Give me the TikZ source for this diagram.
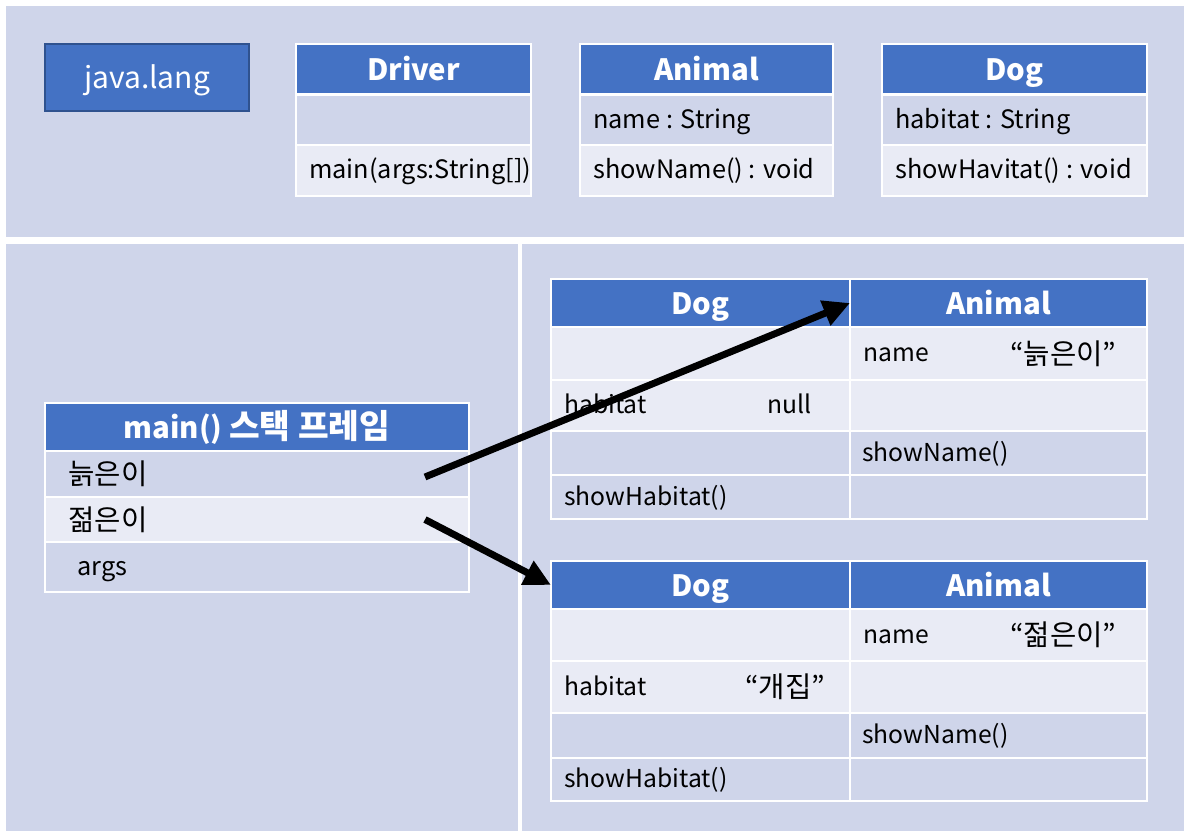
\documentclass[tikz,border=0pt]{standalone}
\usepackage{fontspec}
\setmainfont{Noto Sans CJK KR}
\usetikzlibrary{arrows.meta,calc}
\definecolor{hdr}{HTML}{4472C4}
\definecolor{drk}{HTML}{CFD5EA}
\definecolor{lgt}{HTML}{E9EBF5}
\definecolor{jbd}{HTML}{2F528F}
\tikzset{
  cellst/.style={draw=white,line width=1.5pt,anchor=north west,inner sep=0pt,outer sep=0pt},
  hdrst/.style={cellst,fill=hdr,text=white,text height=20.5pt,text depth=3pt,font=\fontsize{22}{24}\selectfont\bfseries},
  txt/.style={inner sep=0pt,anchor=mid west,yshift=-3.5pt,font=\fontsize{19}{22}\selectfont},
  otxt/.style={inner sep=0pt,anchor=mid west,yshift=-3.5pt,font=\fontsize{18.5}{22}\selectfont},
  ktxt/.style={inner sep=0pt,anchor=mid west,yshift=-5.5pt,font=\fontsize{21.5}{24}\selectfont},
  ptr/.style={line width=5.2pt,-{Triangle[length=20pt,width=19pt]}}
}
\newcommand\cel[6]{\node[cellst,fill=#6,minimum width={0.75pt*#4},minimum height={0.75pt*#5}] (#1) at (#2,#3) {};}
\newcommand\hcel[6]{\node[hdrst,minimum width={0.75pt*#4},minimum height={0.75pt*#5}] (#1) at (#2,#3) {#6};
  \draw[white,line width=2.2pt] (#1.south west) -- (#1.south east);}
\begin{document}
\begin{tikzpicture}[x=0.75pt,y=-0.75pt]
\useasboundingbox (0,0) rectangle (1190,838);
\fill[white] (0,0) rectangle (1190,838);
% panels
\fill[drk] (6,6) rectangle (1184,237);
\fill[drk] (6,244) rectangle (518,831);
\fill[drk] (522,244) rectangle (1184,831);

% java.lang
\node[draw=jbd,line width=1.5pt,fill=hdr,text=white,anchor=north west,inner sep=0pt,
  text height=19pt,text depth=3pt,
  minimum width={0.75pt*204},minimum height={0.75pt*67},font=\fontsize{22.5}{24}\selectfont] (jl) at (44,43) {java.lang};

% Driver
\hcel{drh}{296}{44}{235}{50}{Driver}
\cel{dr1}{296}{95}{235}{50}{drk}
\cel{dr2}{296}{145}{235}{51}{lgt}
\node[txt] (drt2) at (309,170.5) {main(args:String[])};

% Animal
\hcel{anh}{580}{44}{253}{50}{Animal}
\cel{an1}{580}{95}{253}{50}{drk}
\cel{an2}{580}{145}{253}{51}{lgt}
\node[txt] (ant1) at (593,120) {name : String};
\node[txt] (ant2) at (593,170.5) {showName() : void};

% Dog
\hcel{dgh}{882}{44}{265}{50}{Dog}
\cel{dg1}{882}{95}{265}{50}{drk}
\cel{dg2}{882}{145}{265}{51}{lgt}
\node[txt] (dgt1) at (895,120) {habitat : String};
\node[txt] (dgt2) at (895,170.5) {showHavitat() : void};

% stack frame
\hcel{sh}{45}{403}{424}{48}{main() {\fontsize{25}{26}\selectfont 스택 프레임}}
\cel{s1}{45}{451}{424}{46}{drk}
\cel{s2}{45}{497}{424}{45}{lgt}
\cel{s3}{45}{542}{424}{50}{drk}
\node[ktxt] (st1) at (68,474) {늙은이};
\node[ktxt] (st2) at (68,519.5) {젊은이};
\node[txt] (st3) at (77,567) {args};

% object 1
\hcel{o1hd}{551}{279}{299}{48}{Dog}
\hcel{o1ha}{850}{279}{297}{48}{Animal}
\cel{o1d1}{551}{327}{299}{53}{lgt}
\cel{o1a1}{850}{327}{297}{53}{lgt}
\cel{o1d2}{551}{380}{299}{51}{lgt}
\cel{o1a2}{850}{380}{297}{51}{lgt}
\cel{o1d3}{551}{431}{299}{44}{drk}
\cel{o1a3}{850}{431}{297}{44}{drk}
\cel{o1d4}{551}{475}{299}{44}{drk}
\cel{o1a4}{850}{475}{297}{44}{drk}
\node[otxt] (o1t1) at (863,353.5) {name};
\node[ktxt] (o1v1) at (1010,353.5) {“늙은이”};
\node[otxt] (o1t2) at (564,405.5) {habitat};
\node[otxt] (o1v2) at (767,405.5) {null};
\node[otxt] (o1t3) at (862,453) {showName()};
\node[otxt] (o1t4) at (564,497) {showHabitat()};

% object 2
\hcel{o2hd}{551}{561}{299}{48}{Dog}
\hcel{o2ha}{850}{561}{297}{48}{Animal}
\cel{o2d1}{551}{609}{299}{52}{lgt}
\cel{o2a1}{850}{609}{297}{52}{lgt}
\cel{o2d2}{551}{661}{299}{52}{lgt}
\cel{o2a2}{850}{661}{297}{52}{lgt}
\cel{o2d3}{551}{713}{299}{45}{drk}
\cel{o2a3}{850}{713}{297}{45}{drk}
\cel{o2d4}{551}{758}{299}{43}{drk}
\cel{o2a4}{850}{758}{297}{43}{drk}
\node[otxt] (o2t1) at (863,635) {name};
\node[ktxt] (o2v1) at (1010,635) {“젊은이”};
\node[otxt] (o2t2) at (564,687) {habitat};
\node[ktxt] (o2v2) at (745,687) {“개집”};
\node[otxt] (o2t3) at (862,735.5) {showName()};
\node[otxt] (o2t4) at (564,779.5) {showHabitat()};

% pointers
\draw[ptr] ($(s1.east)+(-44,3)$) -- (o1ha.west);
\draw[ptr] ($(s2.east)+(-44,0)$) -- (o2hd.west);
\end{tikzpicture}
\end{document}
